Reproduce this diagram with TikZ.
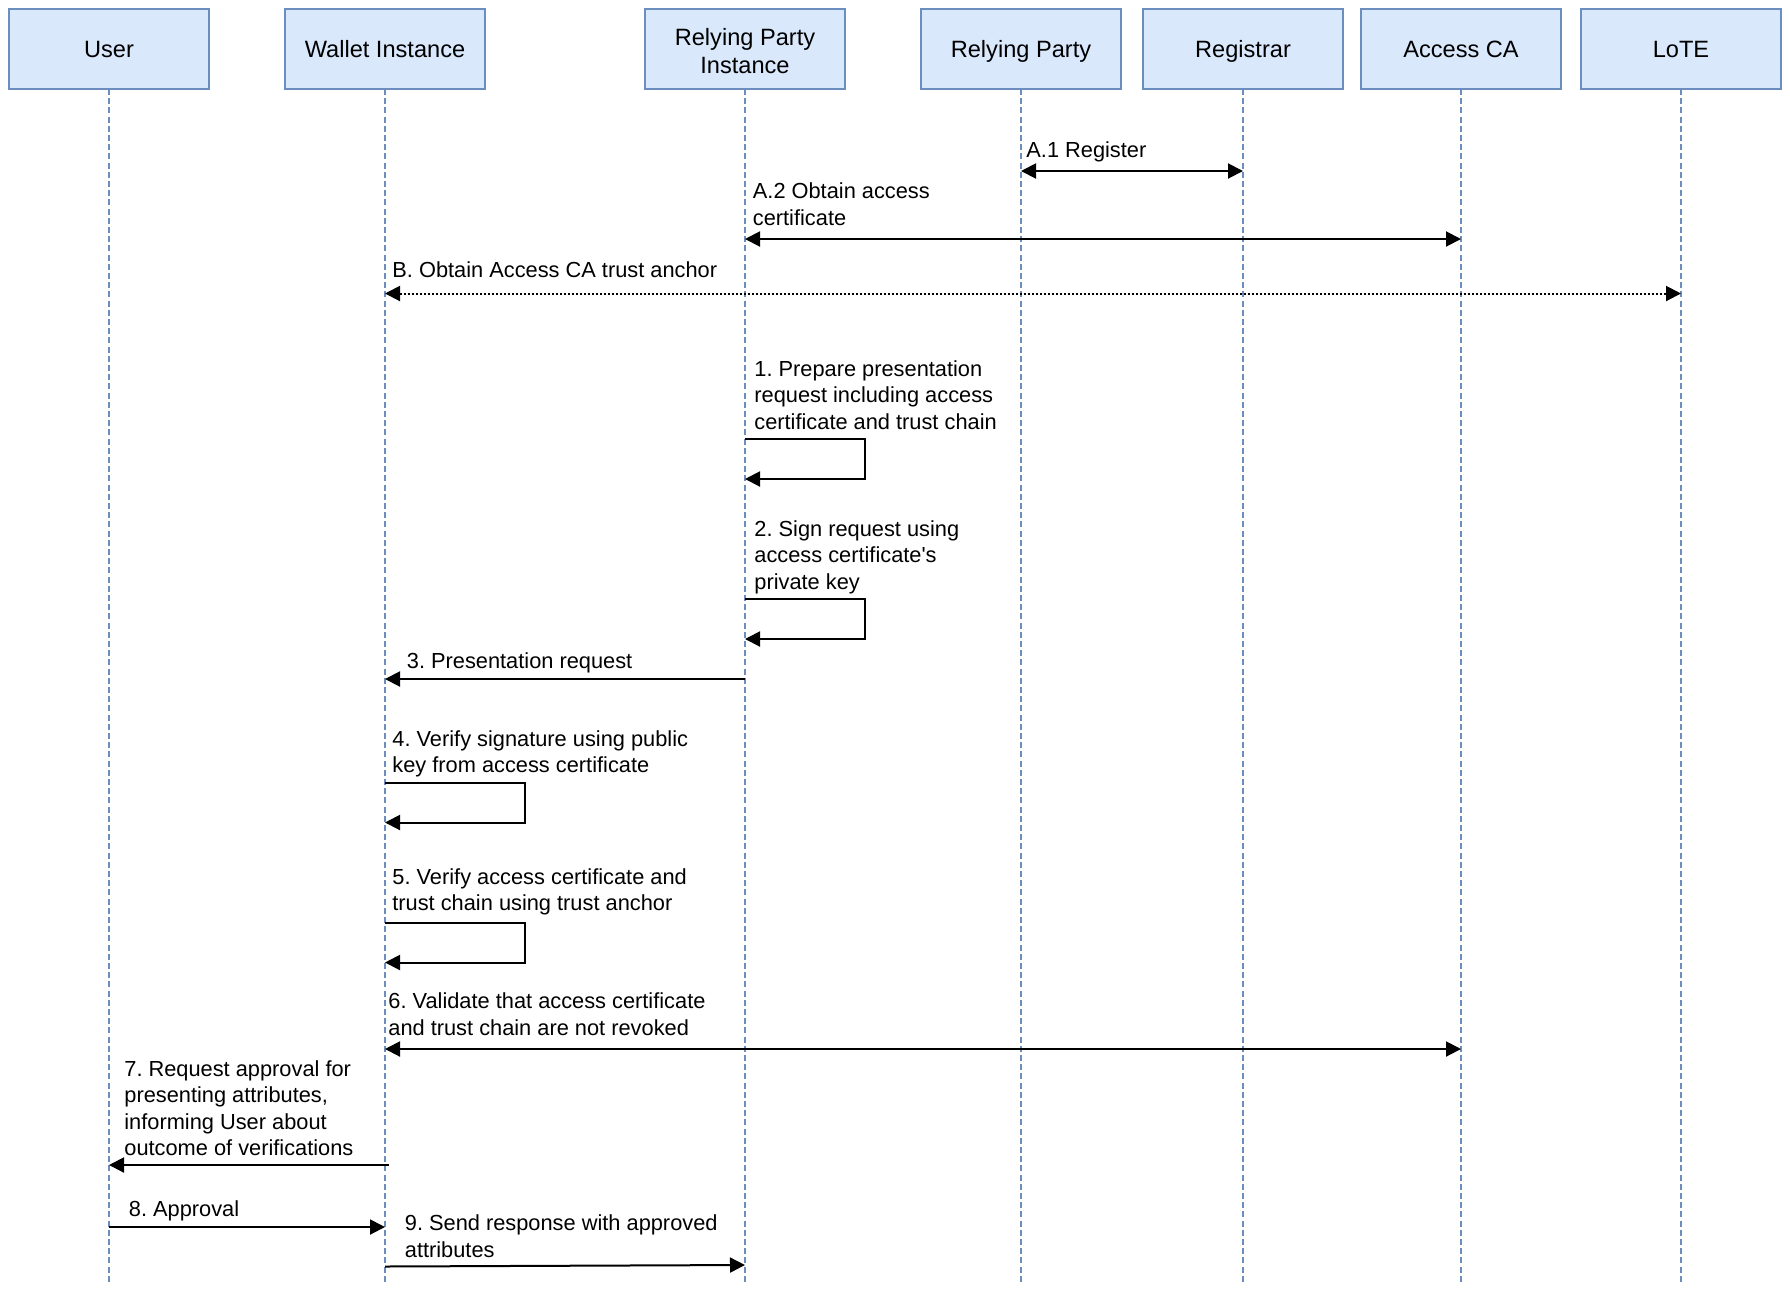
\documentclass[tikz,border=0pt]{standalone}
\usepackage{fontspec}
\setmainfont{Liberation Sans}
\usetikzlibrary{arrows.meta,positioning}
\definecolor{actorfill}{HTML}{DAE8FC}
\definecolor{actorline}{HTML}{6C8EBF}
\frenchspacing

\begin{document}
\begin{tikzpicture}[
  x=0.5pt, y=-0.5pt,
  font={\fontsize{10.9}{13.2}\selectfont},
  >={Triangle[length=7.5pt,width=7.5pt]},
  actor/.style={draw=actorline,fill=actorfill,line width=0.7pt,minimum width=100pt,minimum height=40pt,align=center,inner sep=0pt,outer sep=0pt,
    font={\fontsize{11.8}{13.8}\selectfont},execute at begin node={\rule{0pt}{10.6pt}\vphantom{g}}},
  life/.style={draw=actorline,line width=0.65pt,dash pattern=on 3pt off 1.6pt},
  msg/.style={line width=1pt},
  lbl/.style={anchor=west,align=left,inner sep=0pt}
]
  \useasboundingbox (0,0) rectangle (1790,1298);

  % participants
  \node[actor] (user) at (109,49) {User};
  \node[actor, right=38pt of user] (wallet) {Wallet Instance};
  \node[actor, right=80pt of wallet] (rpi) {\rule{0pt}{13pt}Relying Party\\Instance};
  \node[actor, right=38pt of rpi] (rp) {Relying Party};
  \node[actor, right=11pt of rp] (reg) {Registrar};
  \node[actor, right=9pt of reg] (ca) {Access CA};
  \node[actor, right=10pt of ca] (lote) {LoTE};

  % lifelines
  \coordinate (bottom) at (0,1284);
  \foreach \p in {user,wallet,rpi,rp,reg,ca,lote}
    \draw[life] (\p.south) -- (\p |- bottom);

  % message levels
  \coordinate (a1) at (0,171);
  \coordinate (a2) at (0,239);
  \coordinate (b) at (0,293.5);
  \coordinate (s1) at (0,439);
  \coordinate (s1r) at (0,479);
  \coordinate (s2) at (0,599);
  \coordinate (s2r) at (0,639);
  \coordinate (m3) at (0,679);
  \coordinate (s4) at (0,783);
  \coordinate (s4r) at (0,822.5);
  \coordinate (s5) at (0,923);
  \coordinate (s5r) at (0,962.5);
  \coordinate (m6) at (0,1049);
  \coordinate (m7) at (0,1165);
  \coordinate (m8) at (0,1227);
  \coordinate (m9) at (0,1266.5);
  \coordinate (m9r) at (0,1265);

  % A. registration
  \draw[msg,<->] (rp |- a1) -- (reg |- a1);
  \node[lbl] (la1) at (1026,152) {A.1 Register};
  \draw[msg,<->] (rpi |- a2) -- (ca |- a2);
  \node[lbl] (la2) at (752.5,204) {A.2 Obtain access\\certificate};
  \draw[msg,<->,dash pattern=on 1pt off 1pt] (wallet |- b) -- (lote |- b);
  \node[lbl] (lb) at (392,270) {B. Obtain Access CA trust anchor};

  % presentation flow
  \draw[msg,->] (rpi |- s1) -- ++(120,0) |- (rpi |- s1r);
  \node[lbl] (l1) at (754,395) {1. Prepare presentation\\request including access\\certificate and trust chain};
  \draw[msg,->] (rpi |- s2) -- ++(120,0) |- (rpi |- s2r);
  \node[lbl] (l2) at (754,557.3) {2. Sign request using\\access certificate\textquotesingle s\\private key};
  \draw[msg,->] (rpi |- m3) -- (wallet |- m3);
  \node[lbl] (l3) at (406.5,663) {3. Presentation request};
  \draw[msg,->] (wallet |- s4) -- ++(140,0) |- (wallet |- s4r);
  \node[lbl] (l4) at (392,754) {4. Verify signature using public\\key from access certificate};
  \draw[msg,->] (wallet |- s5) -- ++(140,0) |- (wallet |- s5r);
  \node[lbl] (l5) at (392,892) {5. Verify access certificate and\\trust chain using trust anchor};
  \draw[msg,<->] (wallet |- m6) -- (ca |- m6);
  \node[lbl] (l6) at (388,1014) {6. Validate that access certificate\\and trust chain are not revoked};
  \draw[msg,->] ([xshift=2pt]wallet |- m7) -- (user |- m7);
  \node[lbl] (l7) at (124,1108.3) {7. Request approval for\\presenting attributes,\\informing User about\\outcome of verifications};
  \draw[msg,->] (user |- m8) -- (wallet |- m8);
  \node[lbl] (l8) at (128.5,1211) {8. Approval};
  \draw[msg,->] (wallet |- m9) -- (rpi |- m9r);
  \node[lbl] (l9) at (404.5,1236) {9. Send response with approved\\attributes};
\end{tikzpicture}
\end{document}
